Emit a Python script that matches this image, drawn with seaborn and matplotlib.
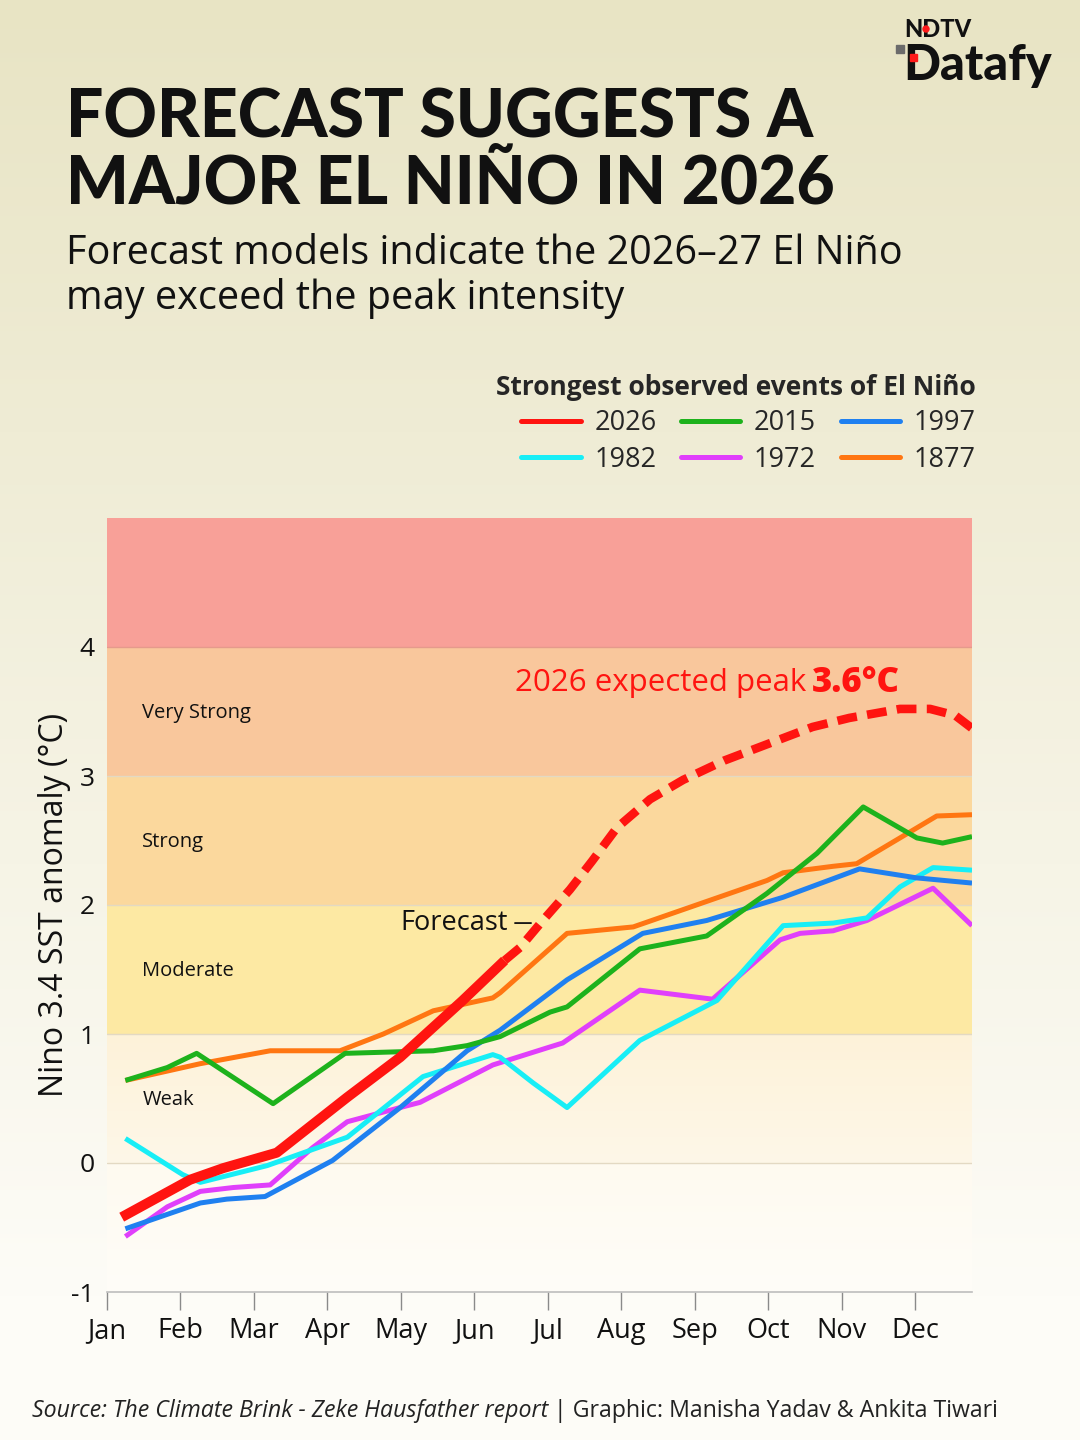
import numpy as np
import pandas as pd
import matplotlib
matplotlib.use("Agg")
import matplotlib.pyplot as plt
import seaborn as sns
from matplotlib.lines import Line2D
from matplotlib.patches import Rectangle, Ellipse

# ---------------- data ----------------
months = ["Jan", "Feb", "Mar", "Apr", "May", "Jun", "Jul", "Aug", "Sep", "Oct", "Nov", "Dec"]
y_ticks = [-1, 0, 1, 2, 3, 4]

x_2026_obs = [0.2, 1.13, 1.58, 2.31, 3.27, 3.99, 4.84, 5.41]
y_2026_obs = [-0.42, -0.13, -0.04, 0.08, 0.51, 0.82, 1.26, 1.57]
x_2026_fc = [5.41, 5.62, 5.93, 6.3, 6.6, 6.94, 7.39, 7.84, 8.4, 9.0, 9.6, 10.1, 10.79, 11.2, 11.54, 11.77]
y_2026_fc = [1.57, 1.67, 1.88, 2.12, 2.34, 2.6, 2.82, 2.97, 3.12, 3.25, 3.38, 3.45, 3.52, 3.52, 3.47, 3.37]

x_2015 = [0.25, 0.82, 1.22, 2.26, 3.24, 4.44, 4.9, 5.35, 6.03, 6.26, 7.25, 8.16, 8.98, 9.66, 10.29, 11.02, 11.37, 11.77]
y_2015 = [0.64, 0.74, 0.85, 0.46, 0.85, 0.87, 0.91, 0.98, 1.17, 1.21, 1.66, 1.76, 2.09, 2.40, 2.76, 2.52, 2.48, 2.53]

x_1997 = [0.25, 1.27, 1.63, 2.15, 3.07, 3.99, 4.9, 5.35, 6.26, 7.29, 8.16, 9.2, 10.24, 11.02, 11.77]
y_1997 = [-0.51, -0.31, -0.28, -0.26, 0.02, 0.43, 0.87, 1.03, 1.42, 1.78, 1.88, 2.06, 2.28, 2.21, 2.17]

x_1982 = [0.25, 1.03, 1.27, 2.18, 3.27, 4.3, 5.25, 5.35, 5.8, 6.26, 7.25, 8.3, 9.2, 9.88, 10.34, 10.79, 11.24, 11.77]
y_1982 = [0.19, -0.09, -0.15, -0.02, 0.20, 0.67, 0.84, 0.82, 0.62, 0.43, 0.95, 1.26, 1.84, 1.86, 1.90, 2.14, 2.29, 2.27]

x_1972 = [0.25, 0.82, 1.27, 1.72, 2.22, 2.8, 3.27, 3.99, 4.26, 5.25, 6.03, 6.2, 7.25, 8.24, 9.16, 9.43, 9.88, 10.34, 11.24, 11.77]
y_1972 = [-0.57, -0.34, -0.22, -0.19, -0.17, 0.12, 0.32, 0.43, 0.47, 0.76, 0.90, 0.93, 1.34, 1.27, 1.73, 1.78, 1.80, 1.88, 2.13, 1.84]

x_1877 = [0.25, 1.27, 2.22, 3.17, 3.76, 4.44, 5.25, 5.35, 6.26, 7.16, 8.07, 8.98, 9.2, 9.88, 10.2, 10.79, 11.29, 11.77]
y_1877 = [0.64, 0.77, 0.87, 0.87, 1.00, 1.18, 1.28, 1.32, 1.78, 1.83, 2.01, 2.19, 2.25, 2.30, 2.32, 2.52, 2.69, 2.70]

band_edges = [-1, 0, 1, 2, 3, 4, 5]
band_names = ["", "Weak", "Moderate", "Strong", "Very Strong", ""]
band_colors = ["#fefaf0", "#fdf2d9", "#fde9a3", "#fbd89d", "#f9c79c", "#f8a098"]

series_colors = {"2026": "#ff1410", "2015": "#1db21c", "1997": "#1f80f0",
                 "1982": "#18eef6", "1972": "#e03ffb", "1877": "#ff7612"}

# ---------------- figure ----------------
sns.set_theme(style="white")
plt.rcParams["font.family"] = ["Open Sans", "DejaVu Sans"]

W, H = 1080, 1440
fig = plt.figure(figsize=(W / 100, H / 100), dpi=100)

# background gradient
bg = fig.add_axes([0, 0, 1, 1], zorder=-10)
top = np.array([232, 228, 196]) / 255
bot = np.array([253, 252, 247]) / 255
t = np.linspace(0, 1, 300)[:, None]
t = np.clip(t / 0.9, 0, 1)
grad = (top[None, :] * (1 - t) + bot[None, :] * t)[:, None, :]
bg.imshow(grad, aspect="auto", extent=[0, 1, 0, 1], origin="upper")
bg.set_axis_off()

def px(x, y):
    return x / W, 1 - y / H

ax = fig.add_axes([107 / W, 1 - 1292 / H, (972 - 107) / W, (1292 - 518) / H])
ax.set_facecolor("none")
XMAX = 11.77

# bands
for i in range(len(band_edges) - 1):
    lo, hi = band_edges[i], band_edges[i + 1]
    if i <= 1:
        c = np.array(matplotlib.colors.to_rgb(band_colors[i]))
        c2 = np.array(matplotlib.colors.to_rgb("#fffdf8" if i == 0 else "#fef7e8"))
        tt = np.linspace(0, 1, 100)[:, None]
        g = (c[None, :] * (1 - tt) + c2[None, :] * tt)[:, None, :]
        ax.imshow(g, aspect="auto", extent=[0, XMAX, lo, hi], origin="upper", zorder=0)
    else:
        ax.axhspan(lo, hi, color=band_colors[i], lw=0, zorder=0)
for e in [0, 1, 2, 3]:
    ax.axhline(e, color="#e3d9c3", lw=1.0, zorder=1)
ax.axhline(4, color="#e59a8c", lw=1.0, zorder=1)

for i, name in enumerate(band_names):
    if name:
        ax.text(0.48, (band_edges[i] + band_edges[i + 1]) / 2 - 0.01, name,
                fontsize=14.5, color="#111111", va="center", ha="left", zorder=3)

lw_thin = 3.6
def draw(x, y, key, lw=lw_thin, ls="-", z=4):
    df = pd.DataFrame({"month": x, "anomaly": y})
    sns.lineplot(data=df, x="month", y="anomaly", ax=ax, color=series_colors[key],
                 lw=lw, linestyle=ls, sort=False, estimator=None, zorder=z,
                 solid_capstyle="butt", solid_joinstyle="round")

draw(x_1877, y_1877, "1877")
draw(x_1972, y_1972, "1972")
draw(x_1982, y_1982, "1982")
draw(x_1997, y_1997, "1997")
draw(x_2015, y_2015, "2015")
draw(x_2026_obs, y_2026_obs, "2026", lw=7.2, z=6)
df_fc = pd.DataFrame({"month": x_2026_fc, "anomaly": y_2026_fc})
sns.lineplot(data=df_fc, x="month", y="anomaly", ax=ax, color=series_colors["2026"],
             lw=6.2, sort=False, estimator=None, zorder=6,
             linestyle=(0, (2.3, 1.2)), dash_capstyle="butt")

ax.set_xlim(0, XMAX)
ax.set_ylim(-1, 5)
ax.set_xticks(range(12))
ax.set_xticklabels(months)
ax.set_yticks(y_ticks)
ax.set_yticklabels([str(v) for v in y_ticks])
ax.set_xlabel("")
ax.set_ylabel("Nino 3.4 SST anomaly (°C)", fontsize=23, color="#111111", labelpad=0)
for s in ["top", "right", "left"]:
    ax.spines[s].set_visible(False)
ax.spines["bottom"].set_color("#bdbdbd")
ax.spines["bottom"].set_linewidth(1.2)
ax.tick_params(axis="x", direction="out", length=13, width=1.0, color="#8a8a8a",
               labelsize=19.5, labelcolor="#111111", pad=5, bottom=True)
ax.tick_params(axis="y", length=0, labelsize=19, labelcolor="#111111", pad=9)
ax.grid(False)

# Forecast label
ax.annotate("Forecast", xy=(5.77, 1.86), xytext=(5.45, 1.86), fontsize=19.5,
            color="#111111", ha="right", va="center", zorder=7,
            arrowprops=dict(arrowstyle="-", color="#111111", lw=1.3, shrinkA=3, shrinkB=0))

# peak annotation
fig.canvas.draw()
r = fig.canvas.get_renderer()
tb = ax.text(10.79, 3.72, "3.6°C", fontsize=25, fontweight="black", color="#ff1410",
             ha="right", va="center", zorder=7)
bb = tb.get_window_extent(renderer=r)
x_left = ax.transData.inverted().transform((bb.x0 - 6, 0))[0]
ax.text(x_left, 3.72, "2026 expected peak", fontsize=22.5, color="#ff1410",
        ha="right", va="center", zorder=7)

# ---------------- titles ----------------
tfont = ["Lato", "DejaVu Sans"]
fig.text(*px(66, 137), "FORECAST SUGGESTS A", fontsize=47.5, fontweight="black",
         family=tfont, color="#111111", va="baseline", ha="left")
fig.text(*px(66, 203), "MAJOR EL NIÑO IN 2026", fontsize=47.5, fontweight="black",
         family=tfont, color="#111111", va="baseline", ha="left")
fig.text(*px(66, 264), "Forecast models indicate the 2026–27 El Niño", fontsize=28.5,
         color="#111111", va="baseline", ha="left")
fig.text(*px(66, 309), "may exceed the peak intensity", fontsize=28.5,
         color="#111111", va="baseline", ha="left")

# logo
fig.text(*px(904, 37), "NDTV", fontsize=17, fontweight="black", family=tfont,
         color="#111111", va="baseline", ha="left")
fig.text(*px(903, 80), "Datafy", fontsize=35, fontweight="black", family=tfont,
         color="#111111", va="baseline", ha="left")
fig.add_artist(Rectangle(px(896, 53), 8 / W, 8 / H, transform=fig.transFigure,
                         color="#6b6b6b", zorder=5))
fig.add_artist(Rectangle(px(910, 61), 7 / W, 7 / H, transform=fig.transFigure,
                         color="#ff1a1a", zorder=5))
fig.add_artist(Ellipse(px(926, 29), 6 / W, 6 / H, transform=fig.transFigure,
                       color="#ff1a1a", zorder=5))

# legend
order = ["2026", "1982", "2015", "1972", "1997", "1877"]
handles = [Line2D([0], [0], color=series_colors[k], lw=3.6) for k in order]
leg = fig.legend(handles, order, loc="upper right", bbox_to_anchor=px(1000, 350),
                 ncol=3, frameon=False, fontsize=19.5, handlelength=2.2,
                 handletextpad=0.5, columnspacing=0.9, labelspacing=0.3,
                 title="Strongest observed events of El Niño", alignment="right")
leg.get_title().set_fontsize(19)
leg.get_title().set_fontweight("bold")

# source
fig.canvas.draw()
s1 = fig.text(*px(32, 1417), "Source: The Climate Brink - Zeke Hausfather report",
              fontsize=16.7, style="italic", color="#222222", va="baseline", ha="left")
b1 = s1.get_window_extent(renderer=fig.canvas.get_renderer())
fig.text(b1.x1 / W, 1 - 1417 / H, " | Graphic: Manisha Yadav & Ankita Tiwari",
         fontsize=16.7, color="#222222", va="baseline", ha="left")

fig.savefig("out.png", dpi=100)
